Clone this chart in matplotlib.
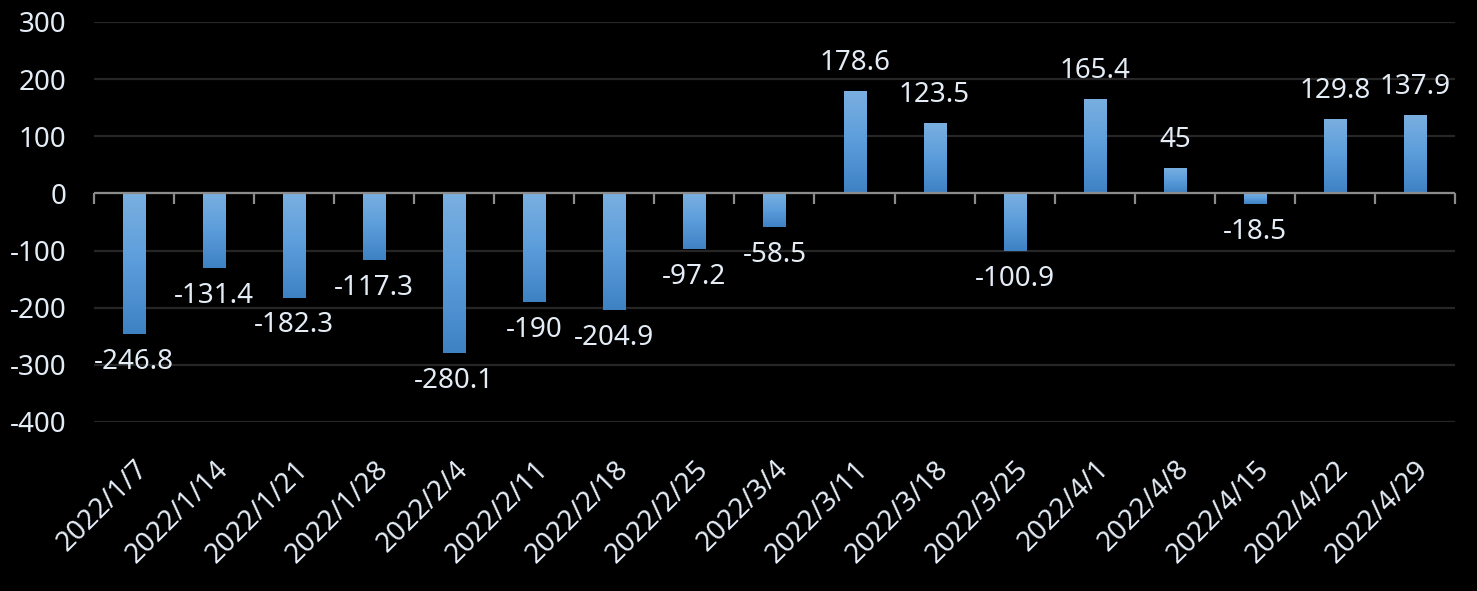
import matplotlib
matplotlib.use("Agg")
import matplotlib.pyplot as plt
import numpy as np
from matplotlib.colors import LinearSegmentedColormap

dates = [
    "2022/1/7", "2022/1/14", "2022/1/21", "2022/1/28", "2022/2/4",
    "2022/2/11", "2022/2/18", "2022/2/25", "2022/3/4", "2022/3/11",
    "2022/3/18", "2022/3/25", "2022/4/1", "2022/4/8", "2022/4/15",
    "2022/4/22", "2022/4/29",
]
values = [
    -246.8, -131.4, -182.3, -117.3, -280.1,
    -190, -204.9, -97.2, -58.5, 178.6,
    123.5, -100.9, 165.4, 45, -18.5,
    129.8, 137.9,
]
y_ticks = [-400, -300, -200, -100, 0, 100, 200, 300]

text_color = "#e4ecf6"
plt.rcParams["font.family"] = ["Noto Sans", "DejaVu Sans"]

fig = plt.figure(figsize=(14.77, 5.91), dpi=100, facecolor="black")
ax = fig.add_axes([0.0636, 0.286, 0.9215, 0.6768], facecolor="black")

x = np.arange(len(values))
bars = ax.bar(x, values, width=0.275, color="#5b9bd5", zorder=3)

# vertical gradient on each bar, light at the top, darker at the bottom
grad = LinearSegmentedColormap.from_list("g", ["#3f82c4", "#5b9ddb", "#7aafe0"])
for b in bars:
    x0, y0 = b.get_x(), b.get_y()
    w, h = b.get_width(), b.get_height()
    lo, hi = min(y0, y0 + h), max(y0, y0 + h)
    img = ax.imshow(
        np.linspace(0, 1, 64).reshape(-1, 1),
        cmap=grad, aspect="auto", origin="lower",
        extent=(x0, x0 + w, lo, hi), zorder=4,
    )
    img.set_clip_path(b)

ax.set_xlim(-0.5, len(values) - 0.5)
ax.set_ylim(-400, 300)
ax.set_yticks(y_ticks)
ax.set_yticklabels([str(v) for v in y_ticks])
ax.grid(axis="y", color="#262626", linewidth=1.6, zorder=0)
ax.axhline(0, color="#8c8c8c", linewidth=1.6, zorder=5)

for s in ax.spines.values():
    s.set_visible(False)

ax.tick_params(axis="y", length=0, pad=20, labelsize=20, labelcolor=text_color)
ax.set_xticks(x)
ax.set_xticklabels(dates, rotation=45, ha="right", rotation_mode="anchor")
ax.tick_params(axis="x", length=0, pad=24, labelsize=20, labelcolor=text_color)

# tick marks on the zero line between categories
sec = ax.secondary_xaxis(400 / 700)
sec.set_xticks(np.arange(-0.5, len(values), 1.0))
sec.tick_params(axis="x", direction="out", length=8, width=1.6, color="#8c8c8c",
                labelbottom=False, labeltop=False, bottom=True, top=False)
sec.spines["bottom"].set_visible(False)
sec.spines["top"].set_visible(False)

for xi, v in zip(x, values):
    label = f"{v:g}"
    if v >= 0:
        ax.annotate(label, (xi, v), xytext=(0, 10), textcoords="offset points",
                    ha="center", va="bottom", fontsize=20, color=text_color, zorder=6)
    else:
        ax.annotate(label, (xi, v), xytext=(0, -10), textcoords="offset points",
                    ha="center", va="top", fontsize=20, color=text_color, zorder=6)

fig.savefig("out.png", dpi=100, facecolor="black")
